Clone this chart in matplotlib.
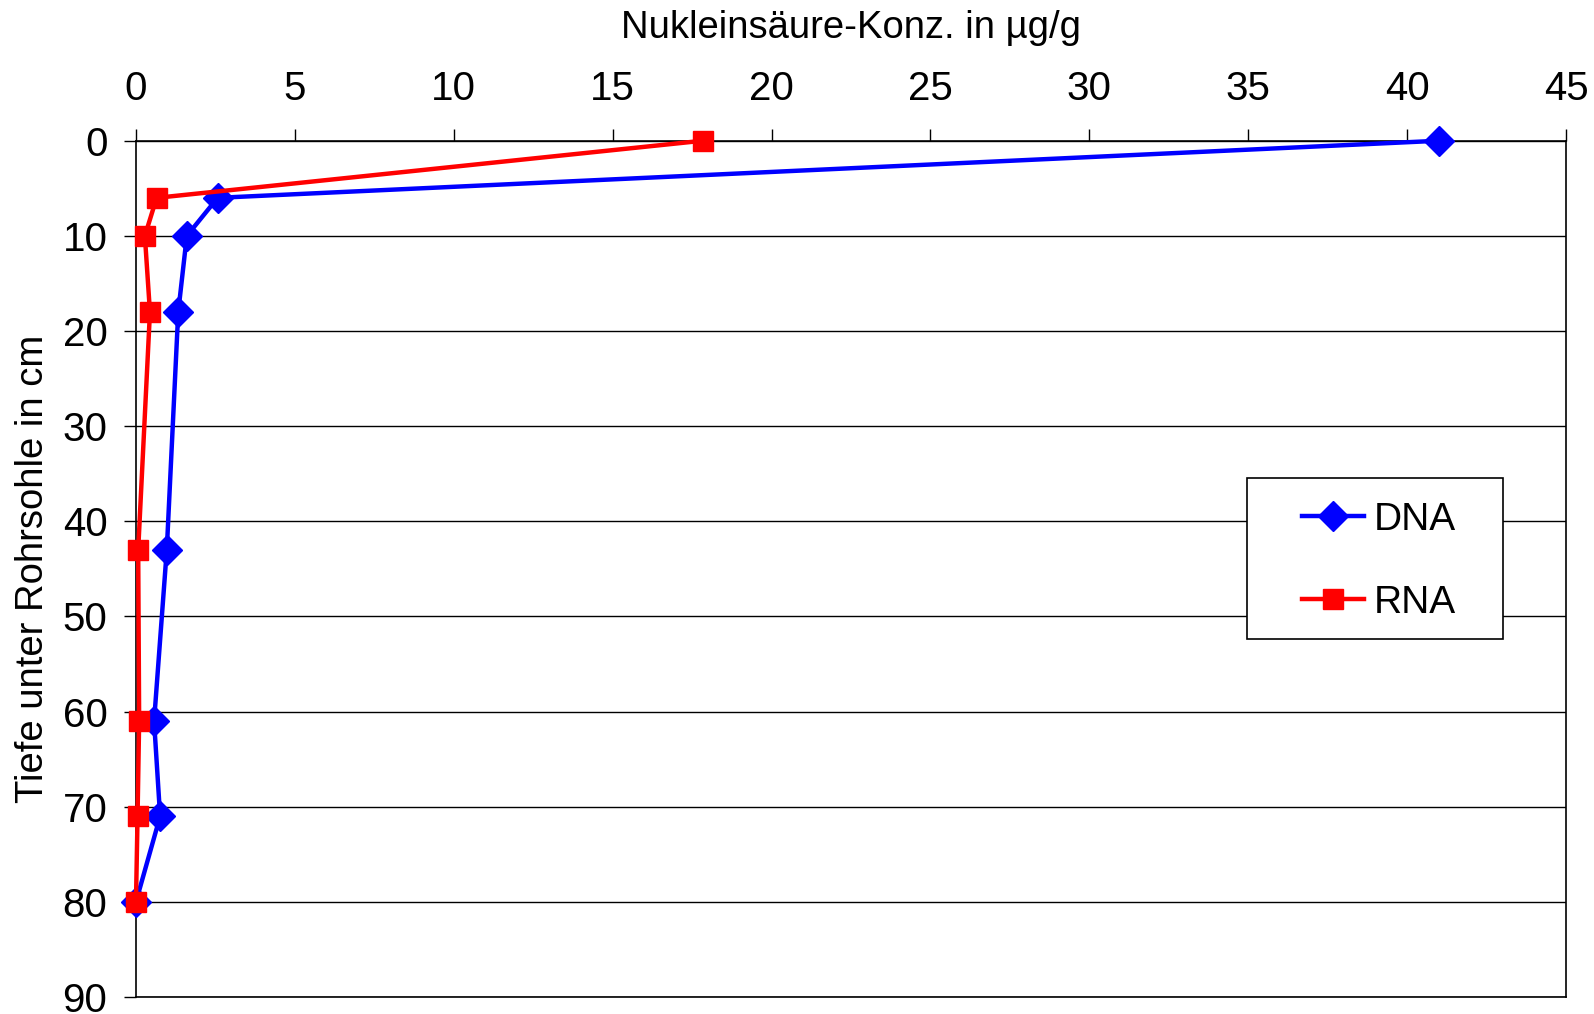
import matplotlib
matplotlib.use("Agg")
import matplotlib.pyplot as plt
from matplotlib.patches import Rectangle

plt.rcParams['font.family'] = ['Liberation Sans', 'DejaVu Sans']

# depth below pipe bottom (cm) and concentrations (ug/g)
depth = [0, 6, 10, 18, 43, 61, 71, 80]
dna = [41.0, 2.57, 1.6, 1.33, 0.97, 0.57, 0.76, 0.0]
rna = [17.83, 0.65, 0.28, 0.44, 0.07, 0.1, 0.05, 0.0]

x_ticks = [0, 5, 10, 15, 20, 25, 30, 35, 40, 45]
y_ticks = [0, 10, 20, 30, 40, 50, 60, 70, 80, 90]

fig = plt.figure(figsize=(15.94, 10.14), dpi=100)
ax = fig.add_axes([0.0853, 0.0167, 0.8971, 0.8445])

ax.plot(dna, depth, color='#0000FF', lw=3.2, marker='D', markersize=15,
        label='DNA', zorder=3, clip_on=False)
ax.plot(rna, depth, color='#FF0000', lw=3.2, marker='s', markersize=14,
        label='RNA', zorder=4, clip_on=False)

ax.set_xlim(0, 45)
ax.set_ylim(90, 0)
ax.set_xticks(x_ticks)
ax.set_yticks(y_ticks)
ax.xaxis.tick_top()
ax.xaxis.set_label_position('top')
ax.tick_params(axis='both', labelsize=29, length=8.5, width=1, color='black')
ax.tick_params(axis='x', pad=15)
ax.tick_params(axis='y', pad=12)

ax.grid(axis='y', color='black', lw=1)
ax.set_axisbelow(True)
for s in ax.spines.values():
    s.set_color('black')
    s.set_linewidth(1.2)

ax.set_xlabel('Nukleinsäure-Konz. in µg/g', fontsize=27.5, labelpad=23)
ax.set_ylabel('Tiefe unter Rohrsohle in cm', fontsize=27.5, labelpad=8)

# legend box drawn by hand, entries placed inside it
ax.add_patch(Rectangle((0.777, 0.418), 0.179, 0.188, transform=ax.transAxes,
                       facecolor='white', edgecolor='black', lw=1.2, zorder=5,
                       clip_on=False))
leg = ax.legend(loc='center left', bbox_to_anchor=(0.8154, 0.509), fontsize=28,
                frameon=False, handlelength=1.6, labelspacing=1.2,
                borderpad=0, handletextpad=0.25, borderaxespad=0)
leg.set_zorder(6)

fig.savefig('out.png', dpi=100, facecolor='white')
